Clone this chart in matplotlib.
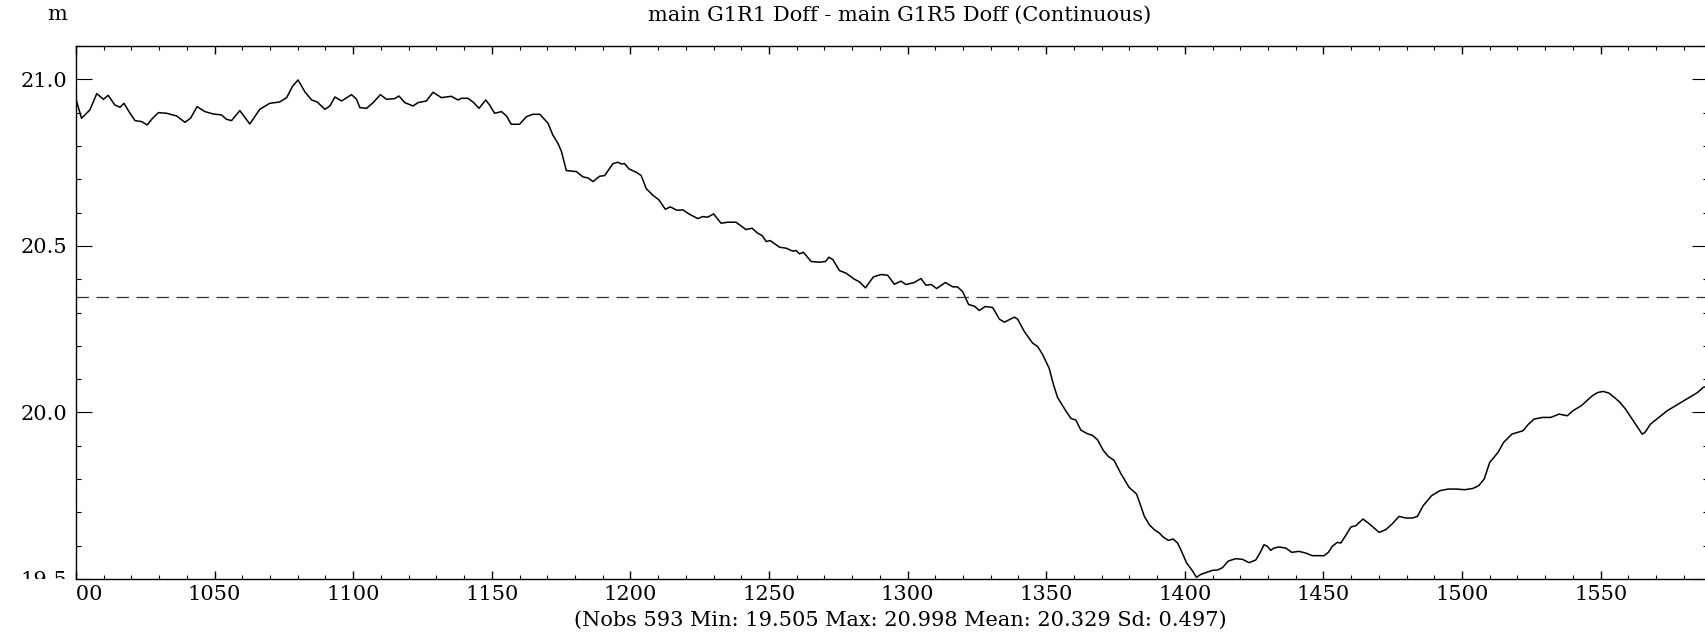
import matplotlib
matplotlib.use("Agg")
import matplotlib.pyplot as plt
from matplotlib.ticker import MultipleLocator
from matplotlib.transforms import Bbox, TransformedBbox

obs = [
    1000.0, 1002.0, 1005.0, 1007.5, 1009.9, 1011.6, 1014.0, 1015.9, 1017.3, 1019.5,
    1021.3, 1023.7, 1025.7, 1027.3, 1029.7, 1032.7, 1036.3, 1039.3, 1041.3, 1043.7,
    1046.5, 1049.5, 1052.5, 1054.3, 1056.1, 1059.1, 1062.7, 1066.3, 1069.9, 1073.5,
    1076.0, 1078.1, 1080.1, 1082.6, 1085.0, 1087.0, 1089.8, 1091.6, 1093.4, 1095.8,
    1099.4, 1101.2, 1102.4, 1104.8, 1107.2, 1109.8, 1112.0, 1115.0, 1116.5, 1118.6,
    1121.6, 1123.4, 1126.4, 1128.8, 1131.8, 1135.4, 1137.8, 1139.0, 1141.4, 1143.2,
    1145.4, 1147.8, 1149.2, 1151.0, 1153.5, 1155.3, 1157.0, 1160.0, 1162.5, 1164.8,
    1167.3, 1170.3, 1172.0, 1173.9, 1175.1, 1176.9, 1180.5, 1182.9, 1184.7, 1186.5,
    1188.9, 1190.7, 1193.7, 1195.5, 1196.7, 1197.9, 1199.5, 1202.1, 1203.9, 1205.7,
    1208.1, 1210.3, 1212.6, 1214.4, 1216.8, 1218.9, 1221.3, 1224.3, 1226.1, 1227.9,
    1230.0, 1232.7, 1235.1, 1238.1, 1241.7, 1243.9, 1245.9, 1247.5, 1249.0, 1250.4,
    1253.8, 1256.2, 1258.6, 1259.8, 1261.0, 1262.4, 1265.2, 1268.2, 1270.4, 1271.6,
    1273.0, 1275.4, 1277.8, 1280.8, 1282.6, 1284.8, 1286.5, 1287.7, 1290.4, 1292.8,
    1295.2, 1297.6, 1299.4, 1302.4, 1304.8, 1306.6, 1308.5, 1310.5, 1313.6, 1316.3,
    1318.0, 1319.9, 1322.0, 1324.1, 1325.9, 1328.0, 1330.7, 1333.1, 1334.9, 1338.5,
    1339.7, 1342.1, 1345.1, 1346.9, 1348.7, 1351.1, 1352.6, 1354.1, 1356.9, 1358.9,
    1360.7, 1362.5, 1364.9, 1366.7, 1368.5, 1370.6, 1372.4, 1374.5, 1376.9, 1379.9,
    1382.6, 1383.8, 1385.4, 1387.2, 1389.0, 1390.8, 1392.2, 1394.1, 1395.8, 1397.4,
    1399.0, 1400.6, 1402.8, 1404.2, 1405.8, 1407.6, 1410.0, 1411.8, 1413.6, 1415.7,
    1418.4, 1420.8, 1423.2, 1425.6, 1427.1, 1428.6, 1429.8, 1431.0, 1432.2, 1434.0,
    1436.4, 1438.6, 1441.2, 1443.6, 1446.0, 1450.2, 1451.8, 1453.2, 1455.0, 1456.3,
    1458.0, 1459.9, 1461.7, 1464.3, 1466.5, 1470.1, 1472.5, 1474.9, 1477.3, 1479.7,
    1482.1, 1483.9, 1486.0, 1489.0, 1492.0, 1495.0, 1498.0, 1501.0, 1504.0, 1506.0,
    1508.0, 1510.0, 1513.0, 1515.0, 1518.0, 1520.0, 1522.0, 1524.0, 1526.0, 1529.0,
    1532.0, 1535.0, 1538.0, 1540.0, 1543.0, 1545.0, 1547.0, 1549.0, 1551.0, 1553.0,
    1555.0, 1557.0, 1559.0, 1561.0, 1563.0, 1565.0, 1566.0, 1568.0, 1571.0, 1574.0,
    1577.0, 1580.0, 1583.0, 1585.0, 1587.0, 1589.0,
]
diff_m = [
    20.940, 20.883, 20.908, 20.957, 20.940, 20.952, 20.923, 20.916, 20.928, 20.898,
    20.876, 20.873, 20.863, 20.880, 20.900, 20.898, 20.890, 20.871, 20.883, 20.918,
    20.903, 20.896, 20.893, 20.880, 20.876, 20.906, 20.866, 20.910, 20.928, 20.932,
    20.945, 20.979, 20.998, 20.962, 20.938, 20.932, 20.910, 20.920, 20.947, 20.935,
    20.954, 20.940, 20.915, 20.913, 20.930, 20.954, 20.940, 20.942, 20.950, 20.930,
    20.920, 20.930, 20.935, 20.961, 20.945, 20.949, 20.938, 20.943, 20.943, 20.932,
    20.913, 20.938, 20.923, 20.898, 20.903, 20.890, 20.865, 20.865, 20.888, 20.895,
    20.895, 20.868, 20.833, 20.807, 20.784, 20.726, 20.723, 20.707, 20.704, 20.693,
    20.709, 20.711, 20.747, 20.751, 20.746, 20.747, 20.731, 20.721, 20.711, 20.672,
    20.652, 20.638, 20.610, 20.617, 20.607, 20.608, 20.595, 20.582, 20.588, 20.586,
    20.596, 20.568, 20.571, 20.571, 20.549, 20.553, 20.538, 20.531, 20.513, 20.516,
    20.496, 20.493, 20.484, 20.486, 20.476, 20.481, 20.453, 20.451, 20.453, 20.466,
    20.459, 20.426, 20.418, 20.400, 20.392, 20.374, 20.394, 20.407, 20.414, 20.412,
    20.385, 20.394, 20.384, 20.390, 20.402, 20.382, 20.384, 20.372, 20.390, 20.377,
    20.377, 20.362, 20.324, 20.319, 20.306, 20.318, 20.315, 20.280, 20.271, 20.286,
    20.280, 20.243, 20.208, 20.198, 20.174, 20.132, 20.084, 20.045, 20.007, 19.982,
    19.977, 19.947, 19.936, 19.931, 19.918, 19.886, 19.868, 19.856, 19.817, 19.775,
    19.755, 19.727, 19.688, 19.663, 19.648, 19.638, 19.626, 19.616, 19.620, 19.608,
    19.580, 19.549, 19.524, 19.505, 19.514, 19.519, 19.526, 19.527, 19.534, 19.554,
    19.561, 19.559, 19.549, 19.557, 19.578, 19.603, 19.598, 19.586, 19.593, 19.596,
    19.593, 19.580, 19.583, 19.578, 19.570, 19.570, 19.580, 19.598, 19.610, 19.608,
    19.630, 19.656, 19.660, 19.680, 19.666, 19.640, 19.648, 19.666, 19.688, 19.683,
    19.683, 19.688, 19.720, 19.750, 19.765, 19.770, 19.770, 19.768, 19.772, 19.780,
    19.800, 19.850, 19.880, 19.910, 19.935, 19.940, 19.945, 19.965, 19.980, 19.985,
    19.985, 19.995, 19.990, 20.005, 20.020, 20.035, 20.050, 20.060, 20.063, 20.058,
    20.045, 20.030, 20.010, 19.985, 19.960, 19.935, 19.940, 19.965, 19.985, 20.005,
    20.020, 20.035, 20.050, 20.060, 20.075, 20.080,
]

mean_line = 20.347
x_ticks = [1000, 1050, 1100, 1150, 1200, 1250, 1300, 1350, 1400, 1450, 1500, 1550]
y_ticks = [19.5, 20.0, 20.5, 21.0]
title = "main G1R1 Doff - main G1R5 Doff (Continuous)"
unit = "m"
stats = "(Nobs 593 Min: 19.505 Max: 20.998 Mean: 20.329 Sd: 0.497)"

plt.rcParams["font.family"] = "DejaVu Serif"
plt.rcParams["font.size"] = 15

W, H = 1706, 632
fig = plt.figure(figsize=(W / 100, H / 100), dpi=100)

# axes box in pixels (right edge just off the picture)
left, right, top, bottom = 76, 1708, 46, 579
ax = fig.add_axes([left / W, 1 - bottom / H, (right - left) / W, (bottom - top) / H])

ax.plot(obs, diff_m, color="black", linewidth=1.1)
ax.axhline(mean_line, color="#333333", linewidth=0.9, linestyle=(0, (10, 6)))

ax.set_xlim(1000, 1000 + (right - left) / 2.772)
ax.set_ylim(19.5, 21.1)
ax.set_xticks(x_ticks)
ax.set_yticks(y_ticks)
ax.set_yticklabels([f"{v:.1f}" for v in y_ticks])
ax.xaxis.set_minor_locator(MultipleLocator(10))
ax.yaxis.set_minor_locator(MultipleLocator(0.1))

ax.tick_params(which="both", direction="in", top=True, right=True, colors="black")
ax.tick_params(axis="x", which="major", length=6, width=1, pad=4)
ax.tick_params(axis="x", which="minor", length=3, width=0.8)
ax.tick_params(axis="y", which="major", length=11.5, width=0.8, pad=6)
ax.tick_params(axis="y", which="minor", length=3.5, width=0.8)
for s in ax.spines.values():
    s.set_linewidth(1.0)

# labels at the ends are cut by the plot box, as in the source
xclip = TransformedBbox(Bbox([[left / W, 0], [1, 1]]), fig.transFigure)
yclip = TransformedBbox(Bbox([[0, 1 - bottom / H], [1, 1]]), fig.transFigure)
for t in ax.xaxis.get_major_ticks():
    t.label1.set_clip_on(True)
    t.label1.set_clip_box(xclip)
for t in ax.yaxis.get_major_ticks():
    t.label1.set_clip_on(True)
    t.label1.set_clip_box(yclip)

fig.text(57 / W, 1 - 15 / H, unit, ha="center", va="center")
fig.text(900 / W, 1 - 15 / H, title, ha="center", va="center")
fig.text(900 / W, 1 - 620 / H, stats, ha="center", va="center")

fig.savefig("out.png", dpi=100)
